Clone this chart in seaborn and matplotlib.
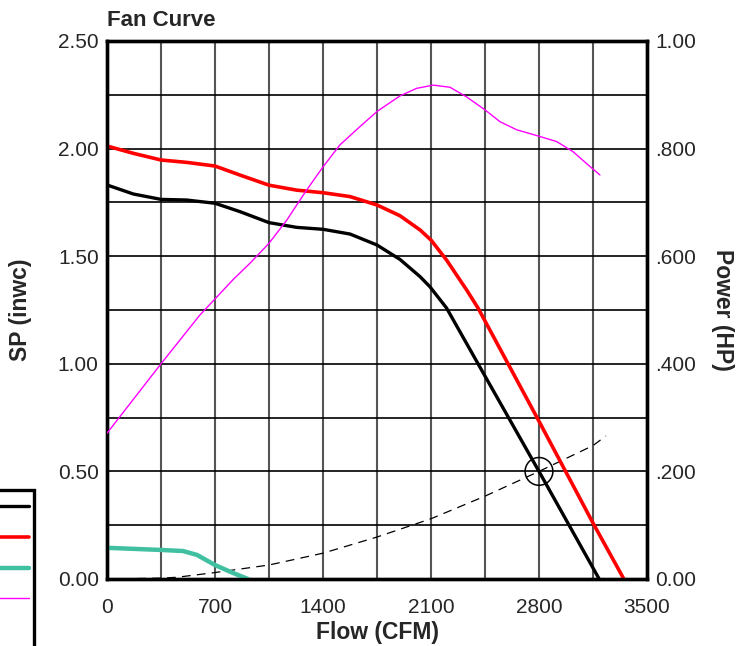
import matplotlib
matplotlib.use("Agg")
import matplotlib.pyplot as plt
import matplotlib.ticker as mticker
from matplotlib.patches import Rectangle
import seaborn as sns

# ---- data ----
op_flow = [0, 171, 350, 516, 700, 862, 1050, 1229, 1400, 1575, 1750, 1899, 2029, 2093, 2201, 2450, 2800, 3190]
op_sp = [1.831, 1.789, 1.764, 1.761, 1.746, 1.707, 1.656, 1.634, 1.625, 1.603, 1.552, 1.485, 1.405, 1.358, 1.259, 0.943, 0.50, 0.0]

max_flow = [0, 171, 350, 516, 700, 862, 1050, 1229, 1400, 1575, 1750, 1899, 2029, 2100, 2201, 2331, 2405, 2800, 3150, 3350]
max_sp = [2.012, 1.978, 1.947, 1.936, 1.919, 1.877, 1.83, 1.807, 1.795, 1.777, 1.738, 1.688, 1.622, 1.575, 1.482, 1.343, 1.259, 0.733, 0.26, 0.0]

min_flow = [0, 350, 493, 583, 700, 817, 914]
min_sp = [0.145, 0.135, 0.13, 0.112, 0.065, 0.028, 0.0]

hp_flow = [0, 350, 600, 819, 927, 1050, 1165, 1294, 1400, 1510, 1640, 1750, 1899, 2007, 2115, 2223, 2331,
           2450, 2547, 2655, 2800, 2915, 3022, 3109, 3195]
hp_val = [0.271, 0.40, 0.49, 0.557, 0.587, 0.624, 0.667, 0.723, 0.766, 0.807, 0.841, 0.869, 0.898, 0.912, 0.918,
          0.914, 0.896, 0.872, 0.850, 0.835, 0.823, 0.813, 0.794, 0.772, 0.751]

sys_flow = [0, 350, 453, 700, 1050, 1400, 1750, 2100, 2450, 2800, 3150, 3234]
sys_sp = [0.0, 0.004, 0.008, 0.03, 0.065, 0.12, 0.195, 0.28, 0.385, 0.50, 0.62, 0.665]

op_point_flow = [2800]
op_point_sp = [0.50]

x_ticks = [0, 700, 1400, 2100, 2800, 3500]
sp_ticks = [0.0, 0.5, 1.0, 1.5, 2.0, 2.5]
sp_tick_labels = ["0.00", "0.50", "1.00", "1.50", "2.00", "2.50"]
hp_ticks = [0.0, 0.2, 0.4, 0.6, 0.8, 1.0]
hp_tick_labels = ["0.00", ".200", ".400", ".600", ".800", "1.00"]

# ---- style ----
sns.set_style("white")
plt.rcParams["font.family"] = ["Liberation Sans", "DejaVu Sans"]

W, H = 744, 646
fig = plt.figure(figsize=(W / 100, H / 100), dpi=100)
ax = fig.add_axes([107 / W, 1 - 579 / H, 540 / W, 538 / H])
ax2 = ax.twinx()

# grid
ax.set_xlim(0, 3500)
ax.set_ylim(0, 2.5)
ax2.set_ylim(0, 1.0)
ax.set_xticks(x_ticks)
ax.xaxis.set_minor_locator(mticker.MultipleLocator(350))
ax.set_yticks(sp_ticks)
ax.set_yticklabels(sp_tick_labels)
ax.yaxis.set_minor_locator(mticker.MultipleLocator(0.25))
ax.grid(True, which="both", axis="x", color="#555555", linewidth=1.5, zorder=0)
ax.grid(True, which="both", axis="y", color="black", linewidth=1.2, zorder=0)
ax.set_axisbelow(True)

# curves
sns.lineplot(x=sys_flow, y=sys_sp, ax=ax, color="black", linewidth=0.9,
             linestyle=(0, (7, 5)), zorder=3)
sns.lineplot(x=op_flow, y=op_sp, ax=ax, color="black", linewidth=2.4, zorder=4, label="a")
sns.lineplot(x=max_flow, y=max_sp, ax=ax, color="#ff0000", linewidth=2.6, zorder=4, label="b")
sns.lineplot(x=min_flow, y=min_sp, ax=ax, color="#40c0a0", linewidth=3.2, zorder=4, label="c")
sns.scatterplot(x=op_point_flow, y=op_point_sp, ax=ax, marker="o", s=400,
                facecolor="none", edgecolor="black", linewidth=1.1, zorder=5)
sns.lineplot(x=hp_flow, y=hp_val, ax=ax2, color="#ff00ff", linewidth=1.0, zorder=4, label="d")

h1, _ = ax.get_legend_handles_labels()
h2, _ = ax2.get_legend_handles_labels()
if ax.get_legend():
    ax.get_legend().remove()
if ax2.get_legend():
    ax2.get_legend().remove()

# ticks
ax2.set_yticks(hp_ticks)
ax2.set_yticklabels(hp_tick_labels)
ax.tick_params(axis="both", which="major", labelsize=15, length=4, direction="in", width=1.2)
ax.tick_params(axis="x", which="major", pad=14)
ax.tick_params(axis="y", which="major", pad=6)
ax.tick_params(which="minor", length=0)
ax2.tick_params(axis="y", labelsize=15, length=4, direction="in", width=1.2, pad=6)

for a in (ax, ax2):
    for s in a.spines.values():
        s.set_linewidth(2.4)
        s.set_color("black")
        s.set_visible(True)

# labels
ax.set_title("Fan Curve", loc="left", fontsize=16, fontweight="bold", pad=11)
ax.set_xlabel("Flow (CFM)", fontsize=16.5, fontweight="bold", va="center")
ax.xaxis.set_label_coords(0.5, -0.1)
ax.set_ylabel("SP (inwc)", fontsize=16.5, fontweight="bold", va="center")
ax.yaxis.set_label_coords(-0.161, 0.5)
ax2.set_ylabel("Power (HP)", fontsize=16.5, fontweight="bold", rotation=270, va="center")
ax2.yaxis.set_label_coords(1.139, 0.5)

# legend box, cut by the left and bottom edges as in the reference
fig.patches.append(Rectangle((-30 / W, -30 / H), 64 / W, (646 - 490 + 30) / H,
                             transform=fig.transFigure, facecolor="white",
                             edgecolor="black", linewidth=2.4, zorder=1))
leg = fig.legend(h1 + h2, ["", "", "", ""], loc="upper right",
                 bbox_to_anchor=(39.4 / W, 1 - 490 / H), bbox_transform=fig.transFigure,
                 markerfirst=False, fontsize=11, handlelength=3.5, labelspacing=1.1,
                 borderpad=0.68, frameon=False, handletextpad=0.0, borderaxespad=0)
leg.set_zorder(2)

fig.savefig("out.png", dpi=100)
